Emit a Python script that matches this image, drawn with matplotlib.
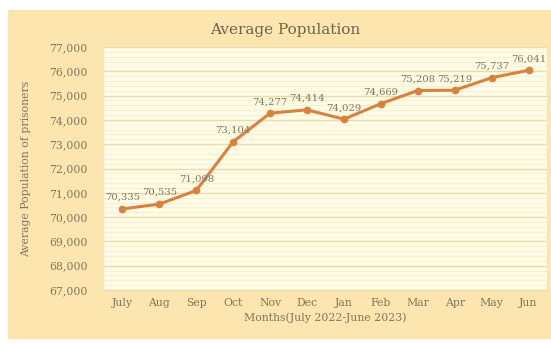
import matplotlib.pyplot as plt
from matplotlib.patches import Rectangle
from matplotlib.ticker import FuncFormatter, MultipleLocator

months = ["July", "Aug", "Sep", "Oct", "Nov", "Dec", "Jan", "Feb", "Mar", "Apr", "May", "Jun"]
population = [70335, 70535, 71098, 73104, 74277, 74414, 74029, 74669, 75208, 75219, 75737, 76041]

plt.rcParams["font.family"] = ["DejaVu Serif"]
text_col = "#807660"
line_col = "#d9813f"

fig = plt.figure(figsize=(5.51, 3.44), dpi=100)
fig.patch.set_facecolor("white")
fig.patches.append(Rectangle((8 / 551, 5 / 344), 1 - 8 / 551, 329 / 344,
                             transform=fig.transFigure, facecolor="#fce5ae",
                             edgecolor="none", zorder=-2))

ax = fig.add_axes([104 / 551, 54 / 344, 443 / 551, 243 / 344])
ax.set_facecolor("#fffbe4")

x = list(range(len(months)))
ax.plot(x, population, color=line_col, lw=2.2, marker="o", ms=4.5, zorder=3)
for xi, v in zip(x, population):
    ax.annotate(f"{v:,}", (xi, v), xytext=(0, 5), textcoords="offset points",
                ha="center", va="bottom", fontsize=7.2, color=text_col, zorder=4)

ax.set_xlim(-0.5, len(months) - 0.5)
ax.set_ylim(67000, 77000)
ax.set_xticks(x)
ax.set_xticklabels(months)
ax.yaxis.set_major_locator(MultipleLocator(1000))
ax.yaxis.set_minor_locator(MultipleLocator(200))
ax.yaxis.set_major_formatter(FuncFormatter(lambda v, p: f"{int(v):,}"))
ax.grid(axis="y", which="major", color="#e6dcae", lw=1.0, zorder=0)
ax.grid(axis="y", which="minor", color="#f5efd2", lw=0.6, zorder=0)
ax.tick_params(axis="both", which="both", length=0, labelsize=7.8, colors=text_col)
ax.tick_params(axis="y", pad=12)
ax.tick_params(axis="x", pad=6)
for s in ax.spines.values():
    s.set_visible(False)
ax.spines["bottom"].set_visible(True)
ax.spines["bottom"].set_color("#e6dcae")

ax.set_xlabel("Months(July 2022-June 2023)", fontsize=7.8, color=text_col, labelpad=3)
ax.set_ylabel("Average Population of prisoners", fontsize=7.8, color=text_col)
ax.yaxis.set_label_coords(-0.165, 0.5)
fig.text(285 / 551, 1 - 30 / 344, "Average Population", ha="center", va="center",
         fontsize=11, color="#6f6350")

fig.savefig("out.png", dpi=100)
